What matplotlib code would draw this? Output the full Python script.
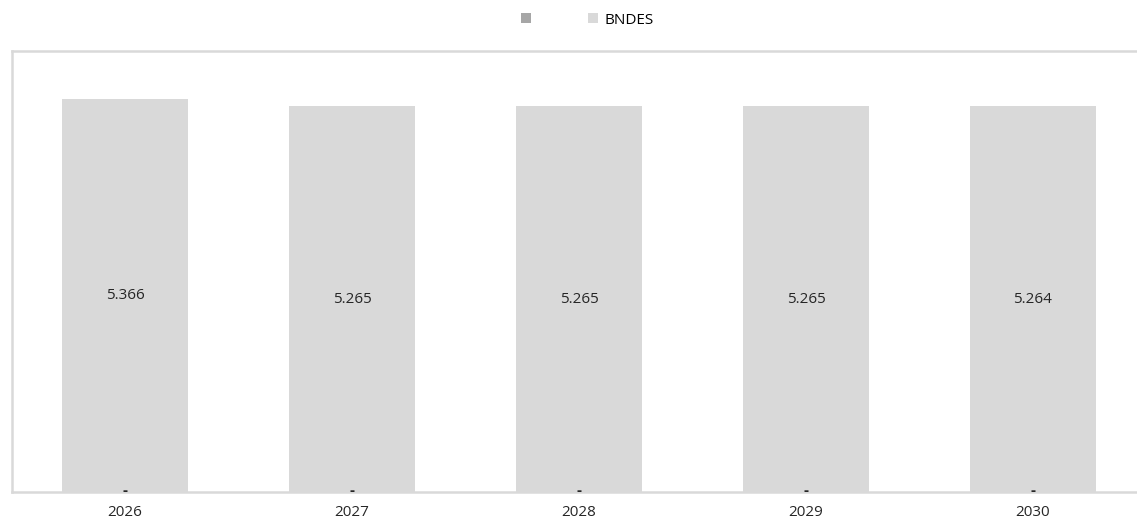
import matplotlib
matplotlib.use("Agg")
import matplotlib.pyplot as plt
from matplotlib.patches import Patch

years = ["2026", "2027", "2028", "2029", "2030"]
other = [0, 0, 0, 0, 0]
bndes = [5.366, 5.265, 5.265, 5.265, 5.264]

plt.rcParams['font.family'] = ['Open Sans', 'DejaVu Sans']

fig = plt.figure(figsize=(11.37, 5.21), dpi=100)
ax = fig.add_axes([11.5/1137, (521-492)/521, (1146.5-11.5)/1137, (492-51)/521])

x = range(len(years))
ax.bar(x, other, width=0.555, color="#a6a6a6")
bars = ax.bar(x, bndes, width=0.555, bottom=other, color="#d9d9d9")
for i, v in enumerate(bndes):
    ax.text(i, other[i] + v/2, f"{v:.3f}", ha="center", va="center", fontsize=11, color="#262626")
    ax.text(i, other[i] + 0.02, "-", ha="center", va="center", fontsize=11, fontweight="bold", color="#262626")

ax.set_xlim(-0.5, 4.5)
ax.set_ylim(0, 6.02)
ax.set_yticks([])
ax.set_xticks(list(x))
ax.set_xticklabels(years, fontsize=11, color="#262626")
ax.tick_params(axis="x", length=0, pad=9.5)
for s in ax.spines.values():
    s.set_color("#d9d9d9")
    s.set_linewidth(1.8)

handles = [Patch(facecolor="#a6a6a6"), Patch(facecolor="#d9d9d9")]
fig.legend(handles, [" ", "BNDES"], loc="center", bbox_to_anchor=(587/1137, 1-20/521),
           ncol=2, frameon=False, fontsize=11, handlelength=0.65, handleheight=0.65,
           handletextpad=0.4, columnspacing=3.1)

fig.savefig("out.png", dpi=100)
